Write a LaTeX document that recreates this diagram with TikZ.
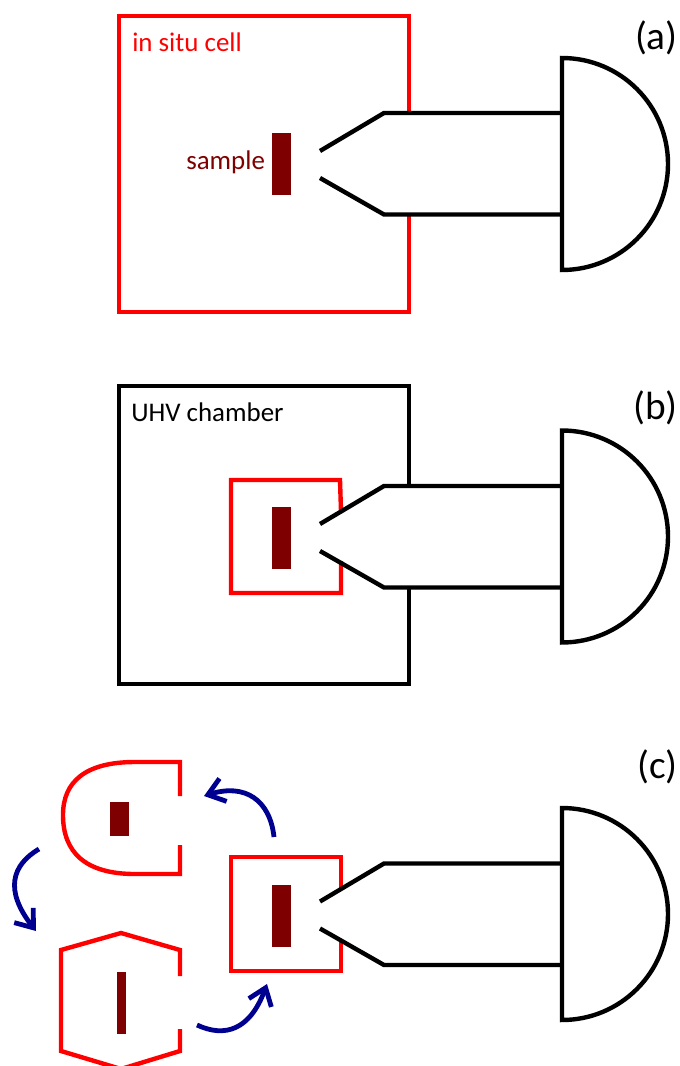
\documentclass[tikz,border=0pt]{standalone}
\usepackage{fontspec}
\setmainfont{Carlito}
\usetikzlibrary{arrows.meta}
\definecolor{sampcol}{HTML}{7F0000}
\definecolor{arrcol}{HTML}{000090}
\tikzset{
  blk/.style={draw=black,line width=3.3pt,line join=miter},
  redl/.style={draw=red,line width=3.3pt,line join=miter},
  samp/.style={fill=sampcol,draw=none,minimum width=14.25pt,minimum height=46.5pt,inner sep=0pt,outer sep=0pt},
  thin samp/.style={samp,minimum width=6.75pt},
  small samp/.style={samp,minimum height=25.5pt},
  lab/.style={font=\fontsize{20.2}{24}\selectfont,inner sep=0pt,anchor=base west},
  panel/.style={font=\fontsize{29.5}{34}\selectfont,inner sep=0pt,anchor=base east},
  move/.style={draw=arrcol,line width=3.6pt,-{Straight Barb[length=12pt,width=18pt,line width=3.6pt]}},
}
\newcommand{\analyser}[2]{%
  \begin{scope}[yshift=-#1*0.75pt]
    \draw[blk] (562,58) arc[start angle=-90,end angle=90,radius=106] -- cycle;
  \end{scope}
  \begin{scope}[yshift=-#2*0.75pt]
    \draw[blk] (320,151) -- (384,113) -- (561,113);
    \draw[blk] (320,178) -- (384,214.5) -- (561,214.5);
  \end{scope}}
\begin{document}
\begin{tikzpicture}[x=0.75pt,y=-0.75pt]
\useasboundingbox (0,0) rectangle (679,1066);
% panel (a)
\draw[redl] (409,113) -- (409,16) -- (119,16) -- (119,312) -- (409,312) -- (409,214);
\analyser{0}{0}
\node[samp] (sa) at (281.5,164) {};
\node[lab,text=red] (cell) at (132,52) {in situ cell};
\node[lab,text=sampcol] (samplab) at (186,170) {sample};
\node[panel] (pa) at (678,50) {(a)};
% panel (b)
\draw[blk] (409,486) -- (409,386) -- (119,386) -- (119,684) -- (409,684) -- (409,587);
\draw[redl] (341,511) -- (340,480) -- (231,480) -- (231,593) -- (341,593) -- (341,561);
\analyser{372.5}{373}
\node[samp] (sb) at (281.5,538) {};
\node[lab,text=black] (uhv) at (131,421) {UHV chamber};
\node[panel] (pb) at (678,419) {(b)};
% panel (c)
\draw[redl] (341,888) -- (341,857) -- (231,857) -- (231,971) -- (341,971) -- (341,940);
\analyser{750}{750.5}
\node[samp] (sc) at (281.5,916) {};
\node[panel] (pc) at (678,778) {(c)};
% removed cell, round
\draw[redl] (180,796) -- (180,762) -- (135,762)
  .. controls (85,762) and (63,782) .. (63,815)
  .. controls (63,852) and (85,874) .. (135,874) -- (180,874) -- (180,845);
\node[small samp] (sd) at (119.5,819) {};
% removed cell, hexagonal
\draw[redl] (180,976) -- (180,950) -- (121,933) -- (61,950) -- (61,1051) -- (121,1069) -- (180,1051) -- (180,1029);
\node[thin samp] (se) at (121.5,1003) {};
% exchange arrows
\coordinate (a1s) at (274,837);
\coordinate (a1e) at (204,796);
\coordinate (a2s) at (39,849);
\coordinate (a2e) at (36,931);
\coordinate (a3s) at (197,1025);
\coordinate (a3e) at (267,984);
\draw[move] (a1s) .. controls (270,800) and (245,783) .. (a1e);
\draw[move] (a2s) .. controls (12,865) and (4,890) .. (a2e);
\draw[move] (a3s) .. controls (225,1038) and (250,1030) .. (a3e);
\end{tikzpicture}
\end{document}
